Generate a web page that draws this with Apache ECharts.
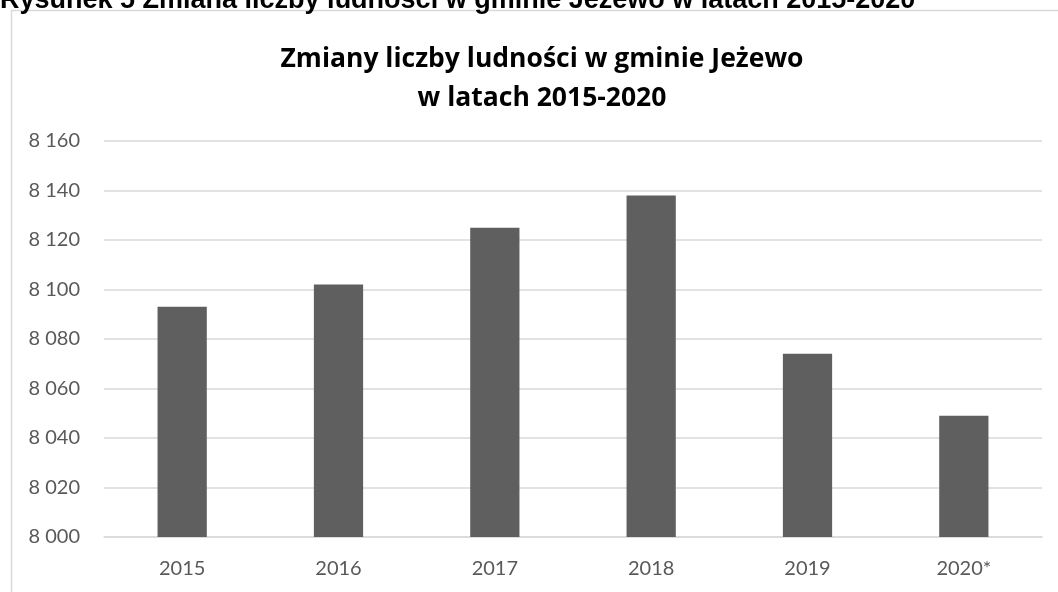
<!DOCTYPE html>
<html>
<head>
<meta charset="utf-8">
<script src="https://cdn.jsdelivr.net/npm/echarts@6/dist/echarts.min.js"></script>
<style>
html,body{margin:0;padding:0;background:#fff;}
#chart{width:1058px;height:592px;}
</style>
</head>
<body>
<div id="chart"></div>
<script>
const categories = ['2015', '2016', '2017', '2018', '2019', '2020*'];
const population = [8093, 8102, 8125, 8138, 8074, 8049];
const caption = 'Rysunek 5 Zmiana liczby ludności w gminie Jeżewo w latach 2015-2020';
const titleText = 'Zmiany liczby ludności w gminie Jeżewo\nw latach 2015-2020';

const chart = echarts.init(document.getElementById('chart'));
chart.setOption({
  backgroundColor: '#fff',
  animation: false,
  title: {
    text: titleText,
    left: 537,
    textAlign: 'center',
    top: 35,
    textStyle: {
      fontFamily: 'Open Sans',
      fontWeight: 'bold',
      fontSize: 26.5,
      color: '#000',
      lineHeight: 39
    }
  },
  graphic: [
    {
      type: 'rect',
      shape: { x: 11.5, y: 10.5, width: 1100, height: 700 },
      style: { fill: 'none', stroke: '#d9d9d9', lineWidth: 1.5 },
      silent: true
    },
    {
      type: 'text',
      left: 0,
      top: -13,
      style: {
        text: caption,
        fontFamily: 'Liberation Sans',
        fontWeight: 'bold',
        fontSize: 27,
        fill: '#000'
      }
    }
  ],
  grid: {
    left: 104,
    right: 16,
    top: 141,
    bottom: 55,
    containLabel: false
  },
  xAxis: {
    type: 'category',
    data: categories,
    axisLine: { show: true, lineStyle: { color: '#d9d9d9', width: 1.5 } },
    axisTick: { show: false },
    axisLabel: {
      color: '#595959',
      fontFamily: 'Lato',
      fontSize: 20,
      margin: 22
    }
  },
  yAxis: {
    type: 'value',
    min: 8000,
    max: 8160,
    interval: 20,
    axisLine: { show: false },
    axisTick: { show: false },
    splitLine: { lineStyle: { color: '#d9d9d9', width: 1.5 } },
    axisLabel: {
      color: '#595959',
      fontFamily: 'Lato',
      fontSize: 20,
      margin: 24,
      formatter: v => String(v).replace(/\B(?=(\d{3})+(?!\d))/g, ' ')
    }
  },
  series: [{
    type: 'bar',
    data: population,
    barWidth: '31.5%',
    itemStyle: { color: '#5f5f5f' }
  }]
});
</script>
</body>
</html>
